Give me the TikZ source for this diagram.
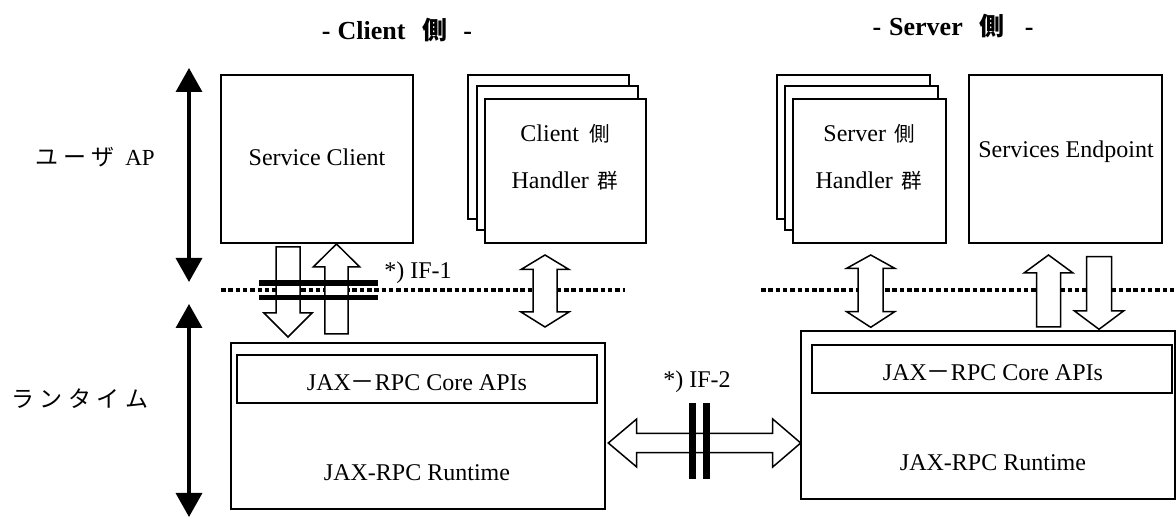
\documentclass[tikz,border=0pt]{standalone}
\usepackage{fontspec}
\setmainfont{Liberation Serif}
\newfontfamily\jp{Noto Sans CJK JP}
\usetikzlibrary{arrows.meta}

% small CJK run inside the box labels
\newcommand\jsm[1]{{\fontsize{20.5}{22}\jp #1}}
% vertical block arrow: centre x, tail y, head-base y, tip y, half shaft, half head
\newcommand\vblockarrow[6]{%
  \draw[blockarrow] ({#1-#5},#2) -- ({#1-#5},#3) -- ({#1-#6},#3) -- (#1,#4)
    -- ({#1+#6},#3) -- ({#1+#5},#3) -- ({#1+#5},#2) -- cycle;}
% vertical double block arrow: centre x, tip1 y, base1 y, base2 y, tip2 y, half shaft, half head
\newcommand\vdoublearrow[7]{%
  \draw[blockarrow] (#1,#2) -- ({#1+#7},#3) -- ({#1+#6},#3) -- ({#1+#6},#4)
    -- ({#1+#7},#4) -- (#1,#5) -- ({#1-#7},#4) -- ({#1-#6},#4)
    -- ({#1-#6},#3) -- ({#1-#7},#3) -- cycle;}

\begin{document}
\begin{tikzpicture}[x=1pt,y=-1pt,
  every node/.style={inner sep=0pt,outer sep=0pt},
  frame/.style={draw,line width=1.6pt,fill=white,anchor=north west},
  txt/.style={font=\fontsize{24}{28}\selectfont,text height=16pt,text depth=0pt},
  ttl/.style={font=\bfseries\fontsize{26}{30}\selectfont,text height=17.5pt,text depth=0pt},
  side/.style={font=\fontsize{23}{26}\selectfont,text height=16pt,text depth=0pt},
  blockarrow/.style={draw,fill=white,line width=1.5pt,line join=miter},
  dotline/.style={line width=3.3pt,dash pattern=on 4.5pt off 2.8pt},
  axisarrow/.style={line width=3.5pt,
    {Triangle[width=26pt,length=24pt]}-{Triangle[width=26pt,length=24pt]}},
  bar/.style={line width=5.8pt},
  vbar/.style={line width=6.5pt}]
\useasboundingbox (0,0) rectangle (1176,518);

% titles
\node[ttl] (ctitle) at (397,31) {-\hspace{7pt}Client\hspace{17pt}{\fontsize{25}{28}\jp\bfseries 側}\hspace{16pt}-};
\node[ttl] (stitle) at (953,27) {-\hspace{8pt}Server\hspace{17pt}{\fontsize{25}{28}\jp\bfseries 側}\hspace{20pt}-};

% layer axis on the left
\coordinate (ax1t) at (189,68);
\coordinate (ax1b) at (189,282);
\coordinate (ax2t) at (189,304);
\coordinate (ax2b) at (189,517);
\draw[axisarrow] (ax1t) -- (ax1b);
\draw[axisarrow] (ax2t) -- (ax2b);
\node[side] (userap) at (95,158) {{\fontsize{23}{26}\jp ユ\hspace{5pt}ー\hspace{5pt}ザ}\hspace{11pt}AP};
\node[side] (rtlabel) at (80,400) {{\fontsize{23}{26}\jp ラ\hspace{5.5pt}ン\hspace{5.5pt}タ\hspace{5.5pt}イ\hspace{5.5pt}ム}};

% boundary between user application and runtime
\coordinate (dla) at (221,290);
\coordinate (dlb) at (625,290);
\coordinate (dlc) at (761,290);
\coordinate (dld) at (1176,290);
\draw[dotline] (dla) -- (dlb);
\draw[dotline] (dlc) -- (dld);

% client side application boxes
\node[frame,minimum width=192pt,minimum height=168pt] (sc) at (221,75) {};
\node[txt] (sctext) at (317,158) {Service Client};
\node[frame,minimum width=161pt,minimum height=144pt] (ch3) at (468,75) {};
\node[frame,minimum width=161pt,minimum height=144pt] (ch2) at (477,86) {};
\node[frame,minimum width=161pt,minimum height=144pt] (ch1) at (485,99) {};
\node[txt] (chtext1) at (565,134) {Client\hspace{10pt}\jsm{側}};
\node[txt] (chtext2) at (565,181) {Handler\hspace{9pt}\jsm{群}};

% server side application boxes
\node[frame,minimum width=153pt,minimum height=144pt] (sh3) at (777,75) {};
\node[frame,minimum width=153pt,minimum height=144pt] (sh2) at (785,86) {};
\node[frame,minimum width=153pt,minimum height=144pt] (sh1) at (793,99) {};
\node[txt] (shtext1) at (869,134) {Server\hspace{8pt}\jsm{側}};
\node[txt] (shtext2) at (869,181) {Handler\hspace{9pt}\jsm{群}};
\node[frame,minimum width=193pt,minimum height=168pt] (se) at (969,75) {};
\node[txt] (setext) at (1066,150) {Services Endpoint};

% runtimes
\node[frame,minimum width=374pt,minimum height=166pt] (crt) at (231,343) {};
\node[frame,minimum width=360pt,minimum height=48pt] (capi) at (237,355) {};
\node[txt] (capitext) at (417,383) {JAX{\jp －}RPC Core APIs};
\node[txt] (crttext) at (417,473) {JAX-RPC Runtime};

\node[frame,minimum width=374pt,minimum height=168pt] (srt) at (801,331) {};
\node[frame,minimum width=360pt,minimum height=48pt] (sapi) at (812,345) {};
\node[txt] (sapitext) at (993,373) {JAX{\jp －}RPC Core APIs};
\node[txt] (srttext) at (993,463) {JAX-RPC Runtime};

% client side block arrows
\vblockarrow{288}{247}{313}{337}{12}{24}
\vblockarrow{336.5}{334}{267}{244}{11.7}{23.3}
\vdoublearrow{545}{255}{269.5}{312}{327}{12}{24}

% server side block arrows
\vdoublearrow{870.7}{255}{268.3}{311.7}{327.3}{12.5}{24}
\vblockarrow{1048.5}{327}{273}{255}{12}{24.5}
\vblockarrow{1099}{256.7}{311}{329.3}{12.5}{24.5}

% client-server exchange
\draw[blockarrow] (608.3,443) -- (636.7,419) -- (636.7,433.3) -- (772.7,433.3)
  -- (772.7,419) -- (800.7,443) -- (772.7,467) -- (772.7,452.7)
  -- (636.7,452.7) -- (636.7,467) -- cycle;

% interface marks
\coordinate (if1a) at (259,283);
\coordinate (if1b) at (378,283);
\coordinate (if1c) at (259,297.5);
\coordinate (if1d) at (378,297.5);
\draw[bar] (if1a) -- (if1b);
\draw[bar] (if1c) -- (if1d);
\node[txt] (if1) at (418,271) {*) IF-1};

\coordinate (if2a) at (692.7,403);
\coordinate (if2b) at (692.7,479);
\coordinate (if2c) at (706.3,403);
\coordinate (if2d) at (706.3,479);
\draw[vbar] (if2a) -- (if2b);
\draw[vbar] (if2c) -- (if2d);
\node[txt] (if2) at (697,380) {*) IF-2};
\end{tikzpicture}
\end{document}
